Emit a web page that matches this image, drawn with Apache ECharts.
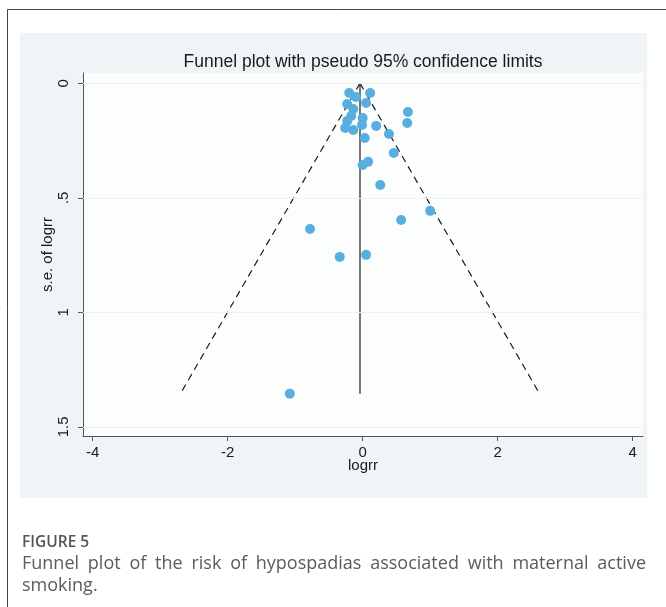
<!DOCTYPE html>
<html>
<head>
<meta charset="utf-8">
<script src="https://cdn.jsdelivr.net/npm/echarts@6/dist/echarts.min.js"></script>
<style>
html,body{margin:0;padding:0;background:#fff;}
#c{width:666px;height:607px;}
</style>
</head>
<body>
<div id="c"></div>
<script>
// ---- data ----
const studyLogRR = [-0.20, -0.10, 0.11, -0.23, 0.05, -0.14, 0.67, 0.66, -0.17, -0.23, 0.00, -0.01, 0.20, -0.26, -0.14, 0.03, 0.39, 0.46, 0.00, 0.08, 0.26, 1.00, 0.57, -0.78, -0.34, 0.05, -1.08];
const studySE    = [0.042, 0.060, 0.042, 0.090, 0.086, 0.112, 0.125, 0.173, 0.143, 0.165, 0.152, 0.182, 0.186, 0.195, 0.204, 0.239, 0.221, 0.304, 0.357, 0.343, 0.444, 0.557, 0.597, 0.636, 0.758, 0.749, 1.355];
const pooledLine = [[-0.04, 0], [-0.04, 1.355]];
const lowerLimit = [[-0.04, 0], [-2.70, 1.355]];
const upperLimit = [[-0.04, 0], [2.62, 1.355]];
const xTicks = [-4, -2, 0, 2, 4];
const yTicks = [0, 0.5, 1, 1.5];
const yTickLabels = ['0', '.5', '1', '1.5'];
const titleText = 'Funnel plot with pseudo 95% confidence limits';
const xName = 'logrr';
const yName = 's.e. of logrr';
const figLabel = 'FIGURE 5';
const captionText = 'Funnel plot of the risk of hypospadias associated with maternal active smoking.';

const points = studyLogRR.map((v, i) => [v, studySE[i]]);

// justified caption layout
function captionGraphics() {
  const font = '18px "Open Sans"';
  const cv = document.createElement('canvas').getContext('2d');
  cv.font = font;
  const words = captionText.split(' ');
  const left = 22, right = 646, width = right - left;
  const space = cv.measureText(' ').width;
  const lines = [];
  let cur = [];
  let w = 0;
  words.forEach(word => {
    const ww = cv.measureText(word).width;
    const nw = cur.length ? w + space + ww : ww;
    if (nw > width && cur.length) { lines.push(cur); cur = [word]; w = ww; }
    else { cur.push(word); w = nw; }
  });
  if (cur.length) lines.push(cur);
  const out = [];
  lines.forEach((ln, li) => {
    const y = 567 + li * 22;
    const last = li === lines.length - 1;
    const widths = ln.map(t => cv.measureText(t).width);
    const total = widths.reduce((a, b) => a + b, 0);
    const gap = (!last && ln.length > 1) ? (width - total) / (ln.length - 1) : space;
    let x = left;
    ln.forEach((t, k) => {
      out.push({type: 'text', left: x, top: y - 12, z: 5,
        style: {text: t, font: font, fill: '#5b5b5b'}});
      x += widths[k] + gap;
    });
  });
  return out;
}

const chart = echarts.init(document.getElementById('c'), null, {renderer: 'canvas'});
const option = {
  backgroundColor: '#ffffff',
  animation: false,
  title: {
    text: titleText, left: 358, top: 48, textAlign: 'center',
    textStyle: {fontFamily: 'Liberation Sans', fontSize: 17.5, fontWeight: 'normal', color: '#1a1a1a'}
  },
  grid: {left: 83, right: 23, top: 73, bottom: 171, show: true, backgroundColor: '#fcfefe', borderWidth: 0},
  xAxis: {
    type: 'value', min: -4.144, max: 4.153,
    name: xName, nameLocation: 'middle', nameGap: 22, nameMoveOverlap: false,
    nameTextStyle: {fontFamily: 'Liberation Sans', fontSize: 15, color: '#1a1a1a'},
    axisLine: {show: true, onZero: false, lineStyle: {color: '#555', width: 1}},
    axisTick: {show: true, length: 5, customValues: xTicks, lineStyle: {color: '#555'}},
    axisLabel: {customValues: xTicks, margin: 9, fontFamily: 'Liberation Sans', fontSize: 15, color: '#1a1a1a',
      formatter: v => String(v)},
    splitLine: {show: false}
  },
  yAxis: {
    type: 'value', inverse: true, min: -0.045, max: 1.54,
    name: yName, nameLocation: 'middle', nameGap: 28, nameRotate: 90, nameMoveOverlap: false,
    nameTextStyle: {fontFamily: 'Liberation Sans', fontSize: 15, color: '#1a1a1a'},
    axisLine: {show: true, onZero: false, lineStyle: {color: '#555', width: 1}},
    axisTick: {show: true, length: 5, customValues: yTicks, lineStyle: {color: '#555'}},
    axisLabel: {customValues: yTicks, rotate: 90, margin: 12, fontFamily: 'Liberation Sans', fontSize: 15, color: '#1a1a1a',
      formatter: v => { const i = yTicks.indexOf(v); return i >= 0 ? yTickLabels[i] : ''; }},
    splitLine: {show: false}
  },
  graphic: [
    {type: 'rect', z: -100, silent: true, shape: {x: 20, y: 33, width: 627, height: 465}, style: {fill: '#eff5f7'}},
    {type: 'line', z: 5, silent: true, shape: {x1: 7.5, y1: 9.5, x2: 666, y2: 9.5}, style: {stroke: '#444', lineWidth: 1}},
    {type: 'line', z: 5, silent: true, shape: {x1: 7.5, y1: 9.5, x2: 7.5, y2: 607}, style: {stroke: '#444', lineWidth: 1}},
    {type: 'text', left: 22, top: 535, z: 5, style: {text: figLabel, font: '600 15.5px "Open Sans"', fill: '#555'}}
  ].concat(captionGraphics()),
  series: [
    {
      type: 'line', data: [], silent: true, symbol: 'none',
      markLine: {silent: true, symbol: 'none', label: {show: false},
        lineStyle: {color: '#edf2f4', width: 1, type: 'solid'},
        data: yTicks.map(v => ({yAxis: v}))}
    },
    {type: 'line', data: lowerLimit, symbol: 'none', silent: true,
      lineStyle: {color: '#1a1a1a', width: 1.2, type: [7, 5]}},
    {type: 'line', data: upperLimit, symbol: 'none', silent: true,
      lineStyle: {color: '#1a1a1a', width: 1.2, type: [7, 5]}},
    {type: 'line', data: pooledLine, symbol: 'none', silent: true,
      lineStyle: {color: '#1a1a1a', width: 1.2}},
    {type: 'scatter', data: points, symbolSize: 10, z: 3,
      itemStyle: {color: '#59aee0', opacity: 1}}
  ]
};
chart.setOption(option);
</script>
</body>
</html>
